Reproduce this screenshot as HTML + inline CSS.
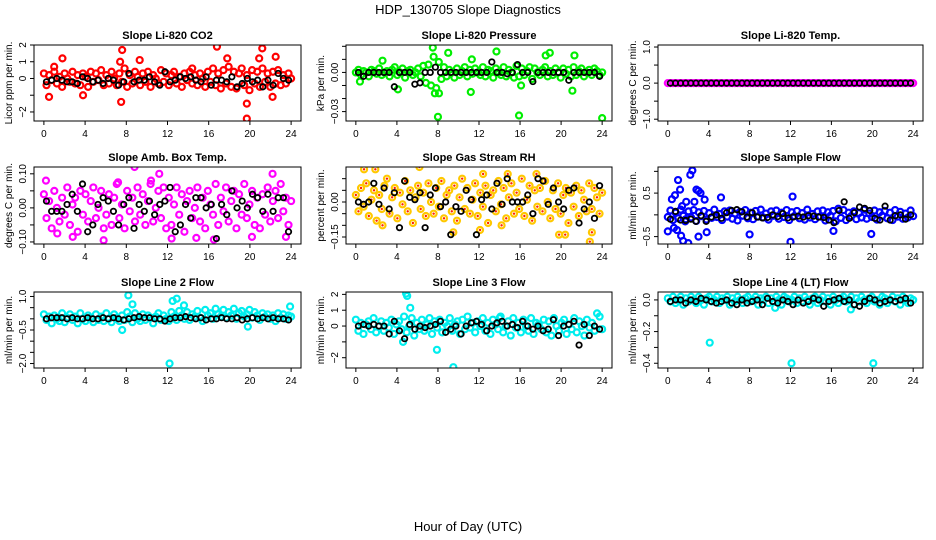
<!DOCTYPE html>
<html><head><meta charset="utf-8">
<style>
html,body{margin:0;padding:0;background:#fff;}
svg{display:block;font-family:"Liberation Sans",sans-serif;}
</style></head>
<body>
<svg id="chart" width="936" height="540" viewBox="0 0 936 540" xmlns="http://www.w3.org/2000/svg">
<rect x="0" y="0" width="936" height="540" fill="#fff"/>
<text x="468" y="14" font-size="13" text-anchor="middle">HDP_130705  Slope Diagnostics</text>
<text x="468" y="531" font-size="13" text-anchor="middle">Hour of Day (UTC)</text>
</svg>
<script>
const X_TICKS=[0,4,8,12,16,20,24];

const co2Vals=[0.3,-0.4,0.2,-0.1,0.4,-0.3,0.1,-0.5,0.3,0.0,-0.2,0.4,-0.3,0.2,-0.4,0.3,0.1,-0.5,0.4,-0.2,0.3,-0.1,0.5,-0.4,0.2,-0.3,0.4,0.0,-0.4,0.3,-0.2,0.6,-0.5,0.2,-0.3,0.4,0.1,-0.4,0.3,-0.2,0.4,-0.5,0.2,0.0,-0.3,0.5,-0.2,0.3,-0.4,0.2,0.4,-0.3,0.1,-0.5,0.3,-0.1,0.4,-0.3,0.2,-0.4,0.3,0.0,-0.5,0.4,-0.2,0.6,-0.4,0.3,-0.6,0.5,-0.3,0.7,-0.5,0.4,-0.6,0.3,0.6,-0.4,0.2,-0.7,0.5,-0.3,0.4,-0.5,0.6,-0.2,0.3,-0.5,0.4,-0.3,0.5,-0.4,0.2,-0.3,0.3,0.0];
const co2OutX=[0.5,1.8,3.8,7.4,7.5,7.6,9.3,16.8,17.8,19.7,19.7,20.9,21.2,22.2,22.5,1.0,14.4];
const co2OutY=[-1.1,1.2,-1.0,1.0,-1.4,1.7,1.1,1.9,1.2,-1.5,-2.4,1.2,1.8,-1.1,1.3,0.7,0.6];
const co2Black=[-0.2,-0.1,0.0,-0.1,-0.2,-0.2,-0.3,0.1,0.0,-0.2,-0.1,-0.3,0.0,-0.1,-0.4,-0.2,0.3,-0.2,-0.1,-0.1,0.1,-0.2,-0.4,0.4,-0.2,-0.1,0.1,0.0,0.1,-0.1,-0.2,0.1,-0.4,-0.1,-0.1,-0.2,0.1,-0.5,-0.3,0.0,-0.2,-0.1,-0.5,-0.1,-0.4,0.3,0.0,-0.1];

const presVals=[0.000,0.002,-0.002,0.001,0.000,-0.003,0.002,0.001,-0.001,0.003,-0.002,0.000,0.001,-0.003,0.002,0.004,-0.002,0.000,0.003,-0.004,0.001,0.002,-0.002,0.000,0.003,-0.003,0.005,-0.008,0.006,-0.010,0.012,-0.012,0.008,-0.005,0.004,-0.003,0.002,0.000,-0.004,0.003,-0.002,0.001,0.004,-0.003,0.002,-0.001,0.003,0.000,-0.002,0.004,-0.003,0.002,0.001,-0.004,0.003,0.000,-0.002,0.004,-0.003,0.002,0.000,-0.004,0.005,-0.003,0.003,-0.002,0.001,0.004,-0.005,0.003,0.000,-0.002,0.002,0.004,-0.003,0.001,-0.002,0.003,0.000,-0.004,0.003,-0.001,0.002,-0.003,0.004,-0.002,0.001,0.003,-0.003,0.000,0.002,-0.002,0.003,0.001,-0.002,0.000];
const presOutX=[7.5,8.0,15.9,24.0,13.7,18.9,21.3,9.0,2.6,11.3,11.2,21.1,0.4,4.1,7.7,8.1,18.5,16.1];
const presOutY=[0.019,-0.034,-0.033,-0.035,0.016,0.015,0.013,0.015,0.009,0.010,-0.015,-0.014,-0.007,-0.013,-0.016,-0.016,0.013,-0.010];
const presBlack=[0.000,-0.003,0.000,0.000,0.000,0.000,0.000,-0.011,0.000,0.000,0.000,-0.009,-0.008,0.000,0.000,0.004,0.000,0.000,0.000,0.000,0.000,0.000,0.000,0.000,0.000,0.000,0.008,0.000,0.000,-0.001,0.000,0.006,0.000,0.000,-0.007,0.000,0.000,0.000,0.000,0.000,0.000,-0.006,0.000,0.000,0.000,0.000,0.000,-0.003];

const tempVals=[0,0,0,0,0,0,0,0,0,0,0,0,0,0,0,0,0,0,0,0,0,0,0,0,0,0,0,0,0,0,0,0,0,0,0,0,0,0,0,0,0,0,0,0,0,0,0,0,0,0,0,0,0,0,0,0,0,0,0,0,0,0,0,0,0,0,0,0,0,0,0,0,0,0,0,0,0,0,0,0,0,0,0,0,0,0,0,0,0,0,0,0,0,0,0,0];
const tempOutX=[];
const tempOutY=[];
const tempBlack=[0,0,0,0,0,0,0,0,0,0,0,0,0,0,0,0,0,0,0,0,0,0,0,0,0,0,0,0,0,0,0,0,0,0,0,0,0,0,0,0,0,0,0,0,0,0,0,0];

const ambVals=[0.04,-0.03,0.02,-0.06,0.05,0.00,-0.04,0.03,-0.02,0.06,-0.05,0.01,0.03,-0.07,0.05,-0.02,0.04,-0.04,0.02,0.06,-0.03,0.00,0.05,-0.06,-0.02,0.04,-0.05,0.03,0.07,-0.03,0.01,-0.06,0.05,-0.01,0.03,-0.04,0.06,-0.02,0.04,-0.05,0.02,0.07,-0.04,0.00,0.05,-0.03,0.06,-0.06,0.03,-0.05,0.01,0.06,-0.02,0.04,-0.07,0.02,0.05,-0.03,0.00,0.06,-0.04,0.03,-0.06,0.05,0.01,-0.02,0.07,-0.05,0.03,-0.01,0.06,-0.04,0.02,0.05,-0.06,0.04,-0.02,0.07,-0.03,0.01,0.05,-0.05,0.03,-0.06,0.04,-0.02,0.06,-0.04,0.02,0.05,-0.03,0.07,-0.01,0.03,-0.05,0.02];
const ambOutX=[0.2,8.8,11.2,22.2,5.8,12.4,14.8,20.2,2.8,1.3,16.5,23.5,7.2,10.4];
const ambOutY=[0.08,0.12,0.10,0.10,-0.095,-0.09,-0.088,-0.085,-0.085,-0.075,-0.093,-0.085,0.075,0.08];
const ambBlack=[0.02,-0.01,-0.01,-0.01,0.01,0.04,-0.01,0.07,-0.07,-0.05,0.01,0.03,0.02,-0.01,-0.05,0.01,0.03,-0.06,0.01,-0.01,0.02,-0.02,0.01,0.02,0.06,-0.07,-0.05,0.01,-0.03,0.03,0.03,0.00,0.01,-0.09,0.01,-0.02,0.05,0.00,0.02,0.00,0.04,0.03,-0.01,0.04,-0.01,0.03,0.03,-0.07];

const rhVals=[0.03,-0.04,0.06,-0.02,0.08,-0.06,0.01,0.05,-0.08,0.03,-0.03,0.07,0.10,-0.05,0.02,0.06,-0.07,0.04,-0.01,0.09,-0.04,0.05,-0.09,0.02,0.07,-0.03,0.04,-0.06,0.08,0.00,-0.05,0.06,-0.02,0.09,-0.07,0.03,0.05,-0.04,0.07,-0.08,0.02,0.10,-0.03,0.06,-0.05,0.01,0.08,-0.06,0.04,-0.02,0.07,-0.09,0.03,0.05,-0.04,0.09,-0.01,0.06,-0.07,0.02,0.08,-0.05,0.04,-0.03,0.10,-0.06,0.01,0.07,-0.08,0.05,-0.02,0.06,-0.04,0.09,0.00,-0.07,0.05,-0.03,0.08,-0.05,0.03,0.06,-0.09,0.04,-0.02,0.07,-0.06,0.05,0.01,-0.04,0.08,-0.03,0.06,0.02,-0.05,0.04];
const rhOutX=[0.8,1.9,6.2,14.8,12.4,17.6,22.8,19.8,20.4,23.0,9.5,2.6,12.1,14.2];
const rhOutY=[0.14,0.14,0.15,0.12,0.12,0.12,-0.17,-0.14,-0.14,-0.13,-0.13,-0.10,-0.12,-0.10];
const rhBlack=[0.00,-0.01,0.00,0.08,-0.01,0.06,-0.03,0.04,-0.11,0.09,0.02,0.01,0.04,-0.11,0.03,0.06,-0.02,0.00,-0.14,-0.02,-0.04,0.05,0.01,-0.14,0.01,0.03,-0.03,0.08,-0.01,0.10,0.00,0.00,0.00,0.03,-0.05,0.10,0.09,-0.01,0.06,0.00,-0.03,0.05,0.06,-0.09,-0.03,0.00,-0.07,0.07];

const flowVals=[-0.05,0.10,-0.12,0.05,-0.08,0.12,-0.02,-0.10,0.08,-0.06,0.11,-0.14,0.06,-0.03,0.09,-0.11,0.04,-0.07,0.12,-0.05,0.02,-0.12,0.08,-0.04,0.10,-0.09,0.03,-0.13,0.07,-0.02,0.11,-0.08,0.05,-0.10,0.09,-0.04,0.12,-0.06,0.03,-0.11,0.08,-0.02,0.10,-0.09,0.05,-0.05,0.11,-0.12,0.06,-0.03,0.09,-0.08,0.04,-0.11,0.12,-0.06,0.02,-0.10,0.08,-0.04,0.10,-0.13,0.06,-0.02,0.09,-0.15,0.14,-0.07,0.11,-0.12,0.05,-0.03,0.08,-0.10,0.04,-0.06,0.12,-0.09,0.03,-0.05,0.10,-0.11,0.06,-0.02,0.09,-0.08,0.05,-0.12,0.11,-0.04,0.07,-0.09,0.03,-0.06,0.10,-0.03];
const flowOutX=[0.0,0.4,0.7,0.9,1.0,1.2,1.3,1.5,1.8,2.0,2.2,2.4,2.6,2.8,3.0,3.2,3.6,3.8,1.7,5.2,8.0,12.0,12.2,16.2,19.9,3.0,1.4,0.6];
const flowOutY=[-0.38,0.36,0.45,-0.35,0.80,0.58,-0.48,-0.60,0.30,-0.65,0.92,1.02,0.30,0.58,-0.50,0.50,0.35,-0.40,-0.15,0.40,-0.45,-0.62,0.42,-0.37,-0.44,0.55,0.20,-0.30];
const flowBlack=[-0.10,0.08,-0.12,-0.13,-0.10,-0.15,-0.02,-0.15,-0.05,0.00,-0.08,0.05,0.10,0.12,0.07,-0.05,0.05,-0.05,-0.07,-0.06,0.00,-0.04,0.03,-0.07,-0.05,-0.03,-0.05,-0.02,-0.03,-0.05,-0.06,-0.12,-0.18,0.10,0.30,-0.08,0.05,0.18,0.15,0.10,-0.08,-0.12,0.20,-0.12,-0.02,0.00,-0.10,0.00];

const l2Vals=[0.20,-0.05,0.10,-0.20,0.15,0.00,-0.10,0.25,-0.15,0.05,0.20,-0.05,0.10,-0.20,0.25,0.00,-0.10,0.15,0.05,-0.15,0.20,-0.05,0.10,-0.10,0.25,0.00,-0.15,0.20,0.05,-0.10,0.15,-0.05,0.30,0.10,-0.15,0.25,0.00,-0.10,0.20,-0.05,0.15,0.05,-0.20,0.10,0.25,-0.05,0.15,0.00,-0.10,0.30,0.10,-0.05,0.35,0.15,0.00,0.30,-0.05,0.20,0.10,0.35,0.05,-0.10,0.40,0.15,0.25,0.00,0.45,0.20,0.10,0.40,0.05,0.30,0.15,0.45,0.00,0.25,0.35,0.10,0.20,0.40,0.05,0.30,0.15,-0.05,0.25,0.10,0.20,0.00,0.15,-0.10,0.25,0.05,0.20,0.00,0.15,0.10];
const l2OutX=[8.2,8.6,12.2,12.5,12.9,13.6,7.6,19.8,23.9];
const l2OutY=[1.05,0.65,-2.0,0.80,0.90,0.60,-0.50,-0.35,0.55];
const l2Black=[0.00,0.05,0.05,0.05,0.00,0.05,0.00,0.00,0.05,0.00,0.00,0.05,0.00,0.05,0.00,-0.05,0.00,0.05,0.10,0.05,0.05,0.00,0.00,-0.10,0.00,0.05,0.05,0.10,0.05,0.00,0.05,-0.05,0.00,0.00,0.05,0.00,0.00,0.05,-0.05,0.00,0.05,0.00,0.05,0.00,0.05,0.00,0.00,-0.05];

const l3Vals=[0.4,-0.3,0.2,-0.5,0.1,0.3,-0.2,0.5,-0.4,0.0,0.3,-0.3,0.2,-0.1,0.4,-0.5,0.1,0.3,-0.2,0.6,-0.4,0.0,0.5,-0.6,0.2,-0.2,0.4,-0.3,0.1,0.5,-0.5,0.3,-0.1,0.4,-0.4,0.2,0.0,0.5,-0.3,0.1,0.3,-0.5,0.4,-0.2,0.6,-0.1,0.2,-0.4,0.3,0.0,0.5,-0.3,0.2,-0.5,0.4,0.1,-0.2,0.6,-0.4,0.0,0.3,-0.6,0.5,-0.1,0.2,-0.4,0.4,0.0,-0.3,0.5,-0.5,0.2,0.1,-0.2,0.4,-0.4,0.3,-0.6,0.5,0.0,-0.3,0.2,0.4,-0.5,0.1,-0.2,0.5,-0.4,0.3,0.0,-0.6,0.4,-0.1,0.2,-0.3,0.8,0.6,-0.2];
const l3OutX=[4.9,5.0,5.3,7.9,9.5,4.6,14.0];
const l3OutY=[2.05,1.9,1.15,-1.5,-2.6,-1.0,0.5];
const l3Black=[0.0,0.1,0.0,0.1,0.0,0.0,-0.5,0.3,-0.3,-0.8,0.1,-0.2,0.0,-0.1,0.0,0.1,0.3,-0.4,-0.2,0.0,-0.5,0.0,0.2,0.3,0.1,-0.3,0.0,0.2,0.3,0.0,0.1,-0.1,0.3,0.0,-0.2,0.0,-0.3,-0.2,0.4,-0.6,0.0,0.1,0.3,-1.2,0.1,-0.6,0.0,-0.2];

const l4Vals=[0.01,-0.01,0.02,-0.02,0.00,0.02,-0.03,0.01,-0.01,0.02,0.00,-0.02,0.02,0.00,-0.03,0.01,0.02,-0.01,0.00,0.02,-0.02,0.01,0.00,0.02,-0.03,0.01,-0.01,0.02,0.00,-0.02,0.01,0.02,-0.01,0.00,0.02,-0.03,0.01,0.00,0.02,-0.02,0.01,-0.01,0.02,0.00,-0.03,0.02,0.01,-0.01,0.00,0.02,-0.02,0.01,-0.01,0.02,0.00,-0.03,0.01,0.02,-0.02,0.00,0.02,-0.01,0.01,-0.03,0.02,0.00,-0.02,0.01,0.02,-0.01,0.00,0.02,-0.03,0.01,-0.01,0.02,0.00,-0.02,0.01,0.02,-0.01,0.00,-0.03,0.02,0.01,-0.02,0.00,0.02,-0.01,0.01,-0.03,0.02,0.00,-0.02,0.01,0.00];
const l4OutX=[4.1,12.1,20.1,10.5,17.9];
const l4OutY=[-0.27,-0.40,-0.40,-0.05,-0.06];
const l4Black=[-0.01,0.00,0.00,-0.02,0.00,-0.01,0.01,0.00,-0.01,-0.02,-0.01,0.00,-0.02,-0.03,0.00,-0.02,-0.01,0.00,-0.03,0.01,-0.01,-0.02,0.00,-0.01,-0.03,0.00,-0.02,-0.01,0.01,0.00,-0.04,-0.01,0.00,0.01,-0.01,0.00,-0.03,-0.04,-0.01,0.01,0.00,-0.02,-0.01,0.00,-0.01,0.00,0.01,-0.02];

const panels=[
 {name:'co2',title:'Slope Li-820 CO2',ylab:'Licor ppm per min.',L:34,T:45,R:301,B:121,ymin:-2.54,ymax:2.0,ticks:[-2,-1,0,1,2],labels:['\u22122','','0','1','2'],col:'#ff0000',vals:co2Vals,ox:co2OutX,oy:co2OutY,blk:co2Black},
 {name:'pressure',title:'Slope Li-820 Pressure',ylab:'kPa per min.',L:346,T:45,R:612,B:121,ymin:-0.0372,ymax:0.021,ticks:[-0.03,-0.02,-0.01,0,0.01,0.02],labels:['\u22120.03','','','0.00','',''],col:'#00ee00',vals:presVals,ox:presOutX,oy:presOutY,blk:presBlack},
 {name:'temp',title:'Slope Li-820 Temp.',ylab:'degrees C per min.',L:658,T:45,R:923,B:121,ymin:-1.05,ymax:1.056,ticks:[-1,-0.5,0,0.5,1],labels:['\u22121.0','','0.0','','1.0'],col:'#ff00ff',vals:tempVals,ox:tempOutX,oy:tempOutY,blk:tempBlack},
 {name:'amb-box',title:'Slope Amb. Box Temp.',ylab:'degrees C per min.',L:34,T:167,R:301,B:244,ymin:-0.106,ymax:0.12,ticks:[-0.1,-0.05,0,0.05,0.1],labels:['\u22120.10','','0.00','','0.10'],col:'#ff00ff',vals:ambVals,ox:ambOutX,oy:ambOutY,blk:ambBlack},
 {name:'gas-rh',title:'Slope Gas Stream RH',ylab:'percent per min.',L:346,T:167,R:612,B:244,ymin:-0.18,ymax:0.15,ticks:[-0.15,-0.1,-0.05,0,0.05,0.1],labels:['\u22120.15','','','0.00','',''],col:'#ffc800',vals:rhVals,ox:rhOutX,oy:rhOutY,blk:rhBlack,dot:'#ff2000'},
 {name:'sample-flow',title:'Slope Sample Flow',ylab:'ml/min per min.',L:658,T:167,R:923,B:244,ymin:-0.67,ymax:1.1,ticks:[-0.5,0,0.5,1.0],labels:['\u22120.5','','0.5',''],col:'#0000ff',vals:flowVals,ox:flowOutX,oy:flowOutY,blk:flowBlack},
 {name:'line2-flow',title:'Slope Line 2 Flow',ylab:'ml/min per min.',L:34,T:292,R:301,B:368,ymin:-2.2,ymax:1.2,ticks:[-2,-1.5,-1,-0.5,0,0.5,1],labels:['\u22122.0','','','\u22120.5','','','1.0'],col:'#00eeee',vals:l2Vals,ox:l2OutX,oy:l2OutY,blk:l2Black},
 {name:'line3-flow',title:'Slope Line 3 Flow',ylab:'ml/min per min.',L:346,T:292,R:612,B:368,ymin:-2.65,ymax:2.15,ticks:[-2,-1,0,1,2],labels:['\u22122','','0','1','2'],col:'#00eeee',vals:l3Vals,ox:l3OutX,oy:l3OutY,blk:l3Black},
 {name:'line4-flow',title:'Slope Line 4 (LT) Flow',ylab:'ml/min per min.',L:658,T:292,R:923,B:368,ymin:-0.43,ymax:0.05,ticks:[-0.4,-0.3,-0.2,-0.1,0],labels:['\u22120.4','','\u22120.2','','0.0'],col:'#00eeee',vals:l4Vals,ox:l4OutX,oy:l4OutY,blk:l4Black}
];

const NS='http://www.w3.org/2000/svg';
const svg=document.getElementById('chart');
function mk(tag,attrs,parent){const e=document.createElementNS(NS,tag);for(const k in attrs)e.setAttribute(k,attrs[k]);parent.appendChild(e);return e;}

panels.forEach(p=>{
  const g=mk('g',{},svg);
  
  
  const xs=x=>p.L+(x+0.96)/25.92*(p.R-p.L);
  const ys=y=>p.B-(y-p.ymin)/(p.ymax-p.ymin)*(p.B-p.T);
  const clip='clip-'+p.name;
  const cp=mk('clipPath',{id:clip},g);
  mk('rect',{x:p.L,y:p.T,width:p.R-p.L,height:p.B-p.T},cp);
  const pts=mk('g',{'clip-path':'url(#'+clip+')'},g);
  
  
  const n=p.vals.length;
  p.vals.forEach((v,i)=>{
    const c=mk('circle',{cx:xs(i*24/(n-1)),cy:ys(v),r:3,fill:'none',stroke:p.col,'stroke-width':2.2},pts);
    
    
    if(p.dot){mk('circle',{cx:xs(i*24/(n-1)),cy:ys(v),r:1.2,fill:p.dot},pts);}
  });
  p.ox.forEach((x,i)=>{
    const c=mk('circle',{cx:xs(x),cy:ys(p.oy[i]),r:3,fill:'none',stroke:p.col,'stroke-width':2.2},pts);
    
    
    if(p.dot){mk('circle',{cx:xs(x),cy:ys(p.oy[i]),r:1.2,fill:p.dot},pts);}
  });
  p.blk.forEach((v,i)=>{
    const c=mk('circle',{cx:xs(i*0.5+0.25),cy:ys(v),r:2.7,fill:'none',stroke:'#000','stroke-width':1.8},pts);
    
    
  });
  const box=mk('rect',{x:p.L,y:p.T,width:p.R-p.L,height:p.B-p.T,fill:'none',stroke:'#000','stroke-width':1},g);
  
  
  const t=mk('text',{x:(p.L+p.R)/2,y:p.T-6,'font-size':11,'font-weight':'bold','text-anchor':'middle'},g);
  t.textContent=p.title;
  
  
  mk('line',{x1:xs(0),x2:xs(24),y1:p.B,y2:p.B,stroke:'#000'},g);
  X_TICKS.forEach(x=>{
    mk('line',{x1:xs(x),x2:xs(x),y1:p.B,y2:p.B+4,stroke:'#000'},g);
    const tl=mk('text',{x:xs(x),y:p.B+16,'font-size':10,'text-anchor':'middle'},g);
    tl.textContent=String(x);
    
    
  });
  const yt=p.ticks;
  mk('line',{x1:p.L,x2:p.L,y1:ys(yt[0]),y2:ys(yt[yt.length-1]),stroke:'#000'},g);
  yt.forEach((v,i)=>{
    mk('line',{x1:p.L-4,x2:p.L,y1:ys(v),y2:ys(v),stroke:'#000'},g);
    if(p.labels[i]){
      const yy=ys(v),xx=p.L-8;
      const tl=mk('text',{x:xx,y:yy,'font-size':10,'text-anchor':'middle',transform:'rotate(-90 '+xx+' '+yy+')'},g);
      tl.textContent=p.labels[i];
      
      
    }
  });
  const lx=p.L-22,ly=(p.T+p.B)/2;
  const yl=mk('text',{x:lx,y:ly,'font-size':10,'text-anchor':'middle',transform:'rotate(-90 '+lx+' '+ly+')'},g);
  yl.textContent=p.ylab;
  
  
});
</script>
</body></html>
